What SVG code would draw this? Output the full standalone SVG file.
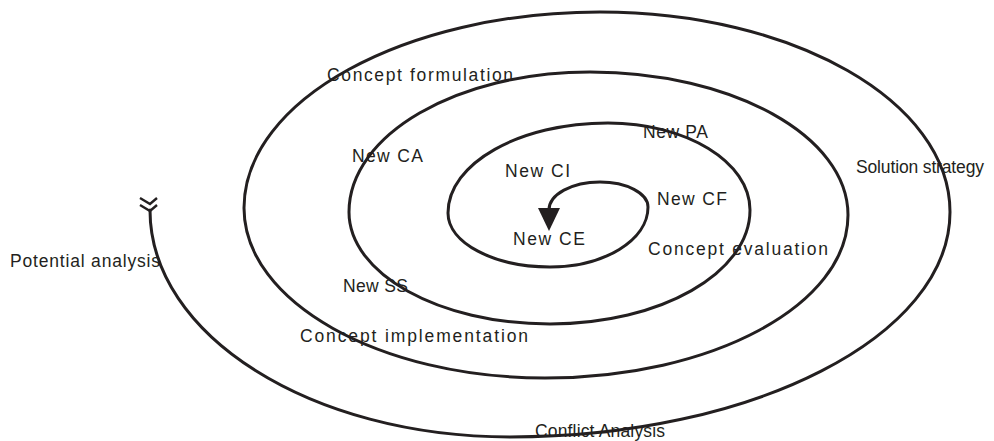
<svg xmlns="http://www.w3.org/2000/svg" width="994" height="441" viewBox="0 0 994 441">
<style>
.lbl{font-family:"Liberation Sans",Arial,sans-serif;font-size:17.5px;fill:#231f20;}
.sp{fill:none;stroke:#231f20;stroke-width:3;stroke-linecap:round;stroke-linejoin:round;}
.chev{fill:none;stroke:#231f20;stroke-width:2.4;}
</style>
<rect width="994" height="441" fill="#ffffff"/>
<g id="connectors">
<path class="sp" d="M150,210 C150,335.4 311.2,437 510,437 C753,437 950,336.3 950,212 C950,101.5 793.3,12 600,12 C404.5,12 244,100 244,208 C244,302 379.9,378 545,378 C712.3,378 848,305 848,215 C848,136 732.5,72 590,72 C456.9,72 349,134.7 349,212 C349,273.9 439,324 550,324 C660.5,324 750,273 750,210 C750,162 686.4,123 608,123 C519.6,123 448,163.3 448,213 C448,242.8 493.7,267 550,267 C604.1,267 648,240.1 648,207 C648,193.2 626.5,182 600,182 C571.8,182 549,194.5 549,210"/>
<polygon points="538,208 560,208 549,231" fill="#231f20"/>
<polyline class="chev" points="140,198 150,204 157,198"/>
<polyline class="chev" points="140,205 150,211 157,205"/>
</g>
<g id="concept-formulation"><text class="lbl" x="327" y="81" textLength="186" lengthAdjust="spacing">Concept formulation</text></g>
<g id="new-ca"><text class="lbl" x="352" y="162" textLength="71" lengthAdjust="spacing">New CA</text></g>
<g id="new-pa"><text class="lbl" x="643" y="138" textLength="65" lengthAdjust="spacing">New PA</text></g>
<g id="new-ci"><text class="lbl" x="505" y="177" textLength="65" lengthAdjust="spacing">New CI</text></g>
<g id="new-cf"><text class="lbl" x="657" y="205" textLength="70" lengthAdjust="spacing">New CF</text></g>
<g id="solution-strategy"><text class="lbl" x="856" y="173" textLength="128" lengthAdjust="spacing">Solution strategy</text></g>
<g id="potential-analysis"><text class="lbl" x="10" y="267" textLength="150" lengthAdjust="spacing">Potential analysis</text></g>
<g id="new-ce"><text class="lbl" x="513" y="245" textLength="72" lengthAdjust="spacing">New CE</text></g>
<g id="concept-evaluation"><text class="lbl" x="648" y="255" textLength="180" lengthAdjust="spacing">Concept evaluation</text></g>
<g id="new-ss"><text class="lbl" x="343" y="292" textLength="65" lengthAdjust="spacing">New SS</text></g>
<g id="concept-implementation"><text class="lbl" x="300" y="342" textLength="228" lengthAdjust="spacing">Concept implementation</text></g>
<g id="conflict-analysis"><text class="lbl" x="535" y="437" textLength="130" lengthAdjust="spacing">Conflict Analysis</text></g>
</svg>
